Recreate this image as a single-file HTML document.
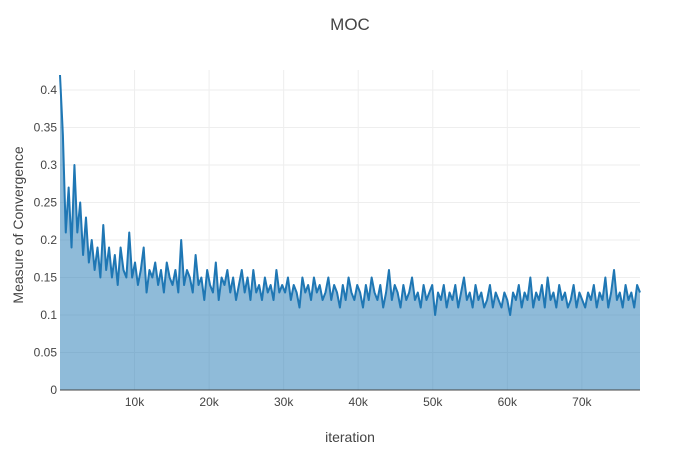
<!DOCTYPE html>
<html><head><meta charset="utf-8"><style>
body{margin:0;background:#fff;}
svg text{font-family:"Liberation Sans",sans-serif;fill:#444;}
</style></head><body>
<svg id="chart" width="700" height="450">
<rect width="700" height="450" fill="#fff"/>
<g id="grid"></g>
<path id="area" fill="rgba(31,119,180,0.5)" stroke="none"/>
<path id="line" fill="none" stroke="#1f77b4" stroke-width="2" stroke-linejoin="round"/>
<line x1="60" x2="640" y1="390" y2="390" stroke="#444" stroke-width="1"/>
<g id="ticks"></g>
<text x="350" y="30" text-anchor="middle" font-size="17">MOC</text>
<text x="350" y="442" text-anchor="middle" font-size="14">iteration</text>
<text transform="translate(23,225) rotate(-90)" text-anchor="middle" font-size="14">Measure of Convergence</text>
</svg>
<script>
const values=[0.42,0.34,0.21,0.27,0.19,0.30,0.21,0.25,0.18,0.23,0.17,0.20,0.16,0.19,0.15,0.22,0.16,0.19,0.15,0.18,0.14,0.19,0.16,0.15,0.21,0.15,
0.17,0.14,0.16,0.19,0.13,0.16,0.15,0.17,0.14,0.16,0.13,0.17,0.15,0.14,0.16,0.13,0.20,0.14,0.16,0.15,0.13,0.18,0.14,0.15,0.12,0.16,
0.14,0.13,0.17,0.12,0.15,0.14,0.16,0.13,0.15,0.12,0.14,0.16,0.13,0.15,0.12,0.16,0.13,0.14,0.12,0.15,0.13,0.14,0.12,0.16,0.13,0.14,
0.13,0.15,0.12,0.14,0.13,0.11,0.15,0.13,0.14,0.12,0.15,0.13,0.14,0.12,0.13,0.15,0.12,0.14,0.13,0.11,0.14,0.12,0.15,0.13,0.12,0.14,
0.13,0.11,0.14,0.12,0.15,0.13,0.12,0.14,0.11,0.13,0.16,0.12,0.14,0.13,0.11,0.14,0.12,0.13,0.15,0.12,0.13,0.11,0.14,0.12,0.13,0.14,
0.10,0.13,0.12,0.14,0.11,0.13,0.12,0.14,0.11,0.13,0.15,0.12,0.13,0.11,0.14,0.12,0.13,0.11,0.12,0.14,0.11,0.13,0.12,0.11,0.13,0.12,
0.10,0.13,0.12,0.14,0.11,0.13,0.12,0.15,0.11,0.13,0.12,0.14,0.11,0.15,0.12,0.13,0.11,0.14,0.12,0.13,0.11,0.12,0.14,0.11,0.13,0.12,
0.11,0.13,0.12,0.14,0.11,0.13,0.12,0.15,0.11,0.13,0.16,0.12,0.13,0.11,0.14,0.12,0.13,0.11,0.14,0.13];
const xMaxIter=77800;
const xTicks=[10000,20000,30000,40000,50000,60000,70000];
const xTickLabels=["10k","20k","30k","40k","50k","60k","70k"];
const yTicks=[0,0.05,0.1,0.15,0.2,0.25,0.3,0.35,0.4];
const yTickLabels=["0","0.05","0.1","0.15","0.2","0.25","0.3","0.35","0.4"];

const X=v=>60+v/xMaxIter*580;
const Y=v=>390-v*750;
const NS="http://www.w3.org/2000/svg";
const grid=document.getElementById('grid'),ticks=document.getElementById('ticks');
function mk(tag,attrs,parent){const e=document.createElementNS(NS,tag);for(const k in attrs)e.setAttribute(k,attrs[k]);parent.appendChild(e);return e;}
xTicks.forEach((t,i)=>{
  const g=mk('line',{x1:X(t),x2:X(t),y1:70,y2:390,stroke:'#eee'},grid);
  
  
  const tx=mk('text',{x:X(t),y:406,'text-anchor':'middle','font-size':12},ticks);
  tx.textContent=xTickLabels[i];
  
  
});
yTicks.forEach((t,i)=>{
  if(t>0){const g=mk('line',{x1:60,x2:640,y1:Y(t),y2:Y(t),stroke:'#eee'},grid);
  
  }
  const tx=mk('text',{x:57,y:Y(t)+4,'text-anchor':'end','font-size':12},ticks);
  tx.textContent=yTickLabels[i];
  
  
});
const step=xMaxIter/(values.length-1);
let d='';
values.forEach((v,i)=>{d+=(i?'L':'M')+X(i*step).toFixed(2)+','+Y(v).toFixed(2);});
document.getElementById('line').setAttribute('d',d);
document.getElementById('area').setAttribute('d',d+'L'+X(xMaxIter)+','+Y(0)+'L'+X(0)+','+Y(0)+'Z');
</script>
</body></html>
